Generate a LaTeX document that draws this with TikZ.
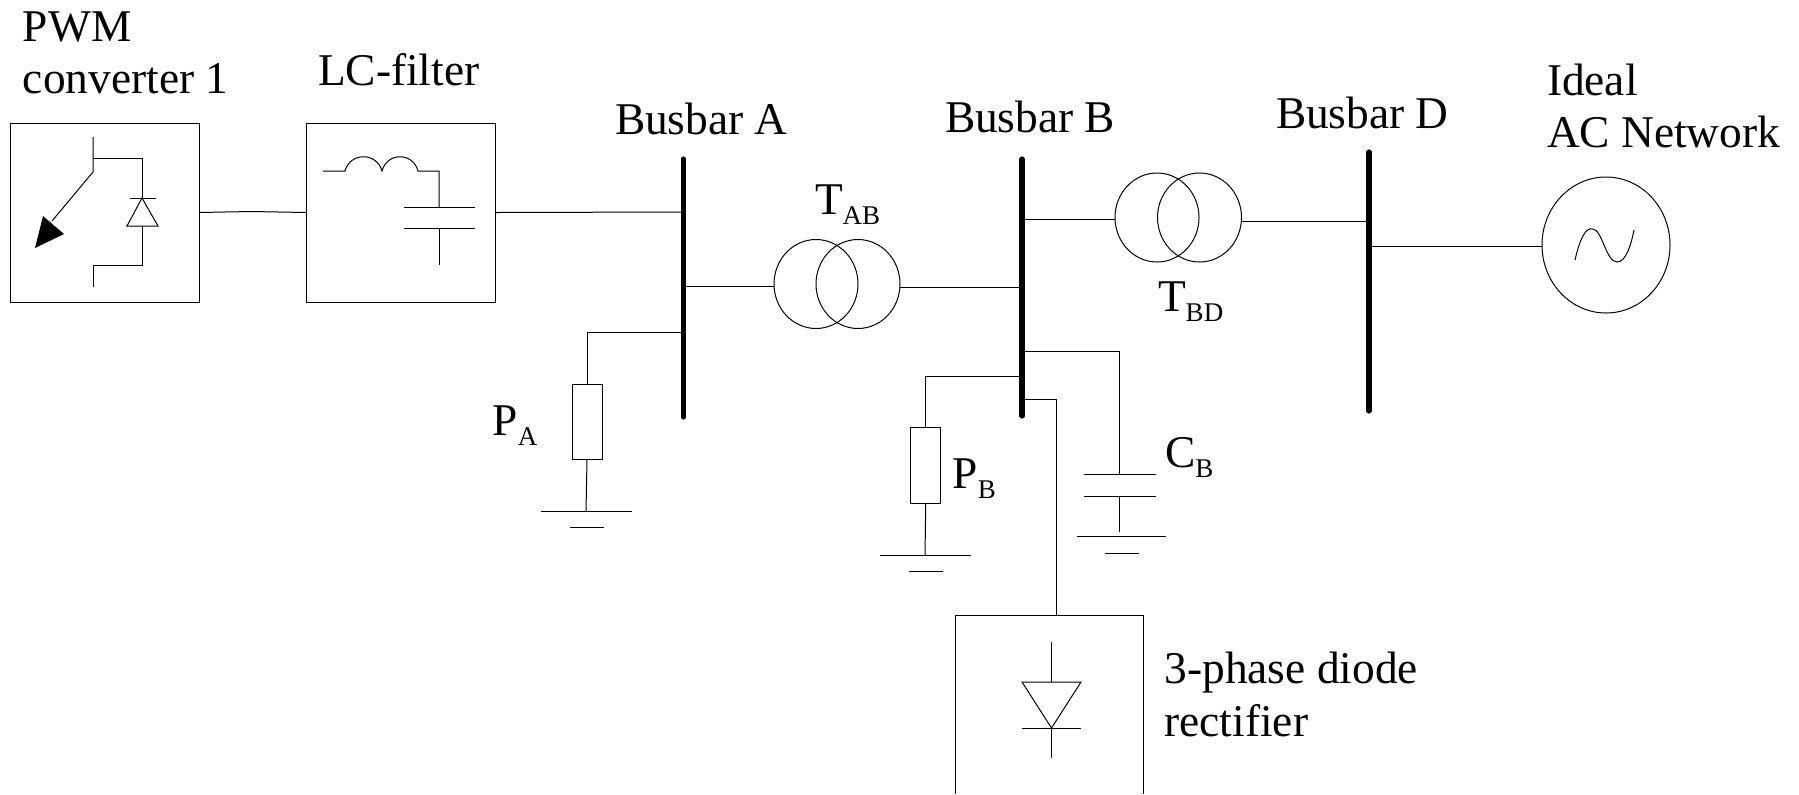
\documentclass[tikz,border=0pt]{standalone}
\usepackage{fontspec}
\setmainfont{Liberation Serif}
\usetikzlibrary{shapes.geometric}
\newcommand{\subs}[1]{\raisebox{-5pt}{\fontsize{13.5pt}{14pt}\selectfont #1}}
\tikzset{
  wire/.style={line width=0.5pt,line join=miter},
  busbar/.style={line width=2.6pt,line cap=round},
  lbl/.style={anchor=base west,inner sep=0pt,outer sep=0pt,font=\fontsize{22.7pt}{26pt}\selectfont},
  blockbox/.style={draw,line width=0.5pt,inner sep=0pt,outer sep=0pt,minimum width=94.5pt,minimum height=89.5pt},
  loadbox/.style={draw,line width=0.5pt,inner sep=0pt,outer sep=0pt,minimum width=15pt,minimum height=37.7pt},
  coil/.style={draw,ellipse,line width=0.5pt,inner sep=0pt,outer sep=0pt,minimum width=42pt,minimum height=44.5pt},
  source/.style={draw,ellipse,line width=0.5pt,inner sep=0pt,outer sep=0pt,minimum width=64pt,minimum height=68pt}
}
\begin{document}
\begin{tikzpicture}[x=0.5pt,y=-0.5pt]
\useasboundingbox[fill=white] (0,0) rectangle (1799,794);
% blocks
\node[blockbox] (conv) at (104.75,212.5) {};
\node[blockbox] (filt) at (400.75,212.5) {};
\node[loadbox] (pa) at (587,422) {};
\node[loadbox] (pb) at (925.75,465.5) {};
\node[coil] (tab1) at (816,284) {};
\node[coil] (tab2) at (858,284) {};
\node[coil] (tbd1) at (1157,217.5) {};
\node[coil] (tbd2) at (1199.5,217.5) {};
\node[source] (ac) at (1606,245) {};
% busbars
\coordinate (aT) at (683.5,159); \coordinate (aB) at (683.5,417);
\coordinate (bT) at (1022,159); \coordinate (bB) at (1022,416);
\coordinate (dT) at (1369,152); \coordinate (dB) at (1369,411);
\draw[busbar] (aT) -- (aB);
\draw[busbar] (bT) -- (bB);
\draw[busbar] (dT) -- (dB);
% bus taps
\coordinate (a1) at (683,212); \coordinate (a2) at (683,286); \coordinate (a3) at (683,332);
\coordinate (b1) at (1022,219.5); \coordinate (b2) at (1022,287); \coordinate (b3) at (1022,351);
\coordinate (b4) at (1022,376); \coordinate (b5) at (1022,399);
\coordinate (d1) at (1369,221); \coordinate (d2) at (1369,246);
% connectors
\coordinate (cf) at (251,211.5);
\draw[wire] (conv.east) -- (cf) -- (filt.west);
\draw[wire] (filt.east) -- (a1);
\draw[wire] (a2) -- (a2 -| tab1.west);
\draw[wire] (tab2.east |- b2) -- (b2);
\draw[wire] (b1) -- (b1 -| tbd1.west);
\draw[wire] (tbd2.east |- d1) -- (d1);
\draw[wire] (d2) -- (d2 -| ac.west);
\draw[wire] (a3) -- (a3 -| pa.north) -- (pa.north);
\draw[wire] (b4) -- (b4 -| pb.north) -- (pb.north);
% grounds
\coordinate (ga) at (586,511); \coordinate (gb) at (925,555);
\draw[wire] (pa.south) -- (ga);
\draw[wire] (541,511) -- (632,511) (570,527) -- (604,527);
\draw[wire] (pb.south) -- (gb);
\draw[wire] (880,555) -- (970.5,555) (909,571) -- (943,571);
% C_B
\coordinate (cw) at (1119,474);
\draw[wire] (b3) -- (b3 -| cw) -- (cw);
\draw[wire] (1084,474) -- (1156,474) (1084,496) -- (1156,496);
\draw[wire] (1119,496) -- (1119,532);
\draw[wire] (1077,536) -- (1166,536) (1105,553) -- (1139,553);
% rectifier
\coordinate (rt) at (1056,615);
\draw[wire] (b5) -- (b5 -| rt) -- (rt);
\draw[wire] (955,794) -- (955,615) -- (1143.5,615) -- (1143.5,794);
\draw[wire] (1051.5,642) -- (1051.5,682);
\draw[wire] (1022,682) -- (1081,682) -- (1051.5,728) -- cycle;
\draw[wire] (1022,728) -- (1081,728);
\draw[wire] (1051.5,728) -- (1051.5,758);
% converter symbol
\draw[wire] (93,137) -- (93,172) -- (52,221);
\fill (43,216) -- (64,234) -- (35,248) -- cycle;
\draw[wire] (93,158) -- (142,158) -- (142,198);
\draw[wire] (130,198) -- (156,198);
\draw[wire] (142,198) -- (158,226) -- (127,226) -- cycle;
\draw[wire] (142,226) -- (142,265) -- (93,265) -- (93,287);
% filter symbol
\draw[wire] (323,171) -- (345,171) .. controls (350,152) and (377,152) .. (382,171)
  .. controls (387,152) and (413,152) .. (418,171) -- (439,171) -- (439,207);
\draw[wire] (404,207) -- (475,207) (404,228) -- (475,228);
\draw[wire] (439,228) -- (439,265);
% sine
\draw[wire] (1575,260) .. controls (1580,238) and (1586,227) .. (1592.6,229)
  .. controls (1602,229) and (1606,262) .. (1617,262)
  .. controls (1626,262) and (1631,245) .. (1634,230);
% labels
\node[lbl] (l1) at (23,41) {PWM};
\node[lbl] (l2) at (23,93) {converter 1};
\node[lbl] (l3) at (318,85) {LC-filter};
\node[lbl] (l4) at (615,134) {Busbar A};
\node[lbl] (l5) at (945,132) {Busbar B};
\node[lbl] (l6) at (1276,128) {Busbar D};
\node[lbl] (l7) at (1547,95) {Ideal};
\node[lbl] (l8) at (1547,147) {AC Network};
\node[lbl] (l9) at (815,214) {T\subs{AB}};
\node[lbl] (l10) at (1158,311) {T\subs{BD}};
\node[lbl] (l11) at (492.6,435) {P\subs{A}};
\node[lbl] (l12) at (952.6,488) {P\subs{B}};
\node[lbl] (l13) at (1165,467) {C\subs{B}};
\node[lbl] (l14) at (1164.5,683) {3-phase diode};
\node[lbl] (l15) at (1164.5,736) {rectifier};
\end{tikzpicture}
\end{document}
